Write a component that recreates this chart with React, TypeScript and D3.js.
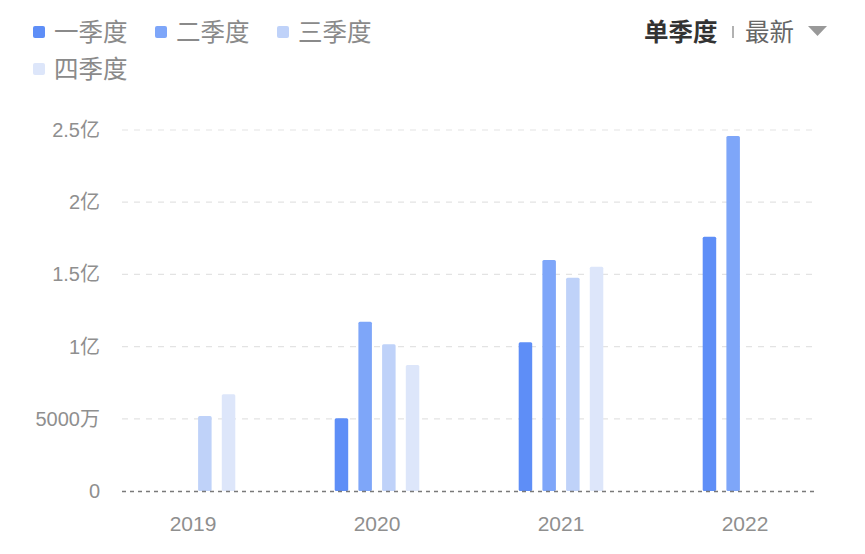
import { useEffect, useRef } from "react";
import { select, scaleBand, scaleLinear, axisLeft, axisBottom } from "d3";

const years = ["2019", "2020", "2021", "2022"];
const quarters = ["一季度", "二季度", "三季度", "四季度"];
// values in 亿, null = no data
const q1 = [null, 0.503, 1.03, 1.761];
const q2 = [null, 1.172, 1.6, 2.458];
const q3 = [0.519, 1.016, 1.477, null];
const q4 = [0.67, 0.873, 1.553, null];
const yTicks = [0, 0.5, 1, 1.5, 2, 2.5];
const yTickLabels = ["0", "5000万", "1亿", "1.5亿", "2亿", "2.5亿"];
const colors = ["#5E8EF7", "#7EA6F9", "#BFD2F9", "#DDE6FA"];

const W = 865;
const H = 554;
const FONT = "'Liberation Sans', 'Noto Sans CJK SC', sans-serif";
const CJK = "'Noto Sans CJK SC', sans-serif";

export default function App() {
  const svgRef = useRef<SVGSVGElement>(null);

  useEffect(() => {
    document.body.style.margin = "0";
    const svg = select(svgRef.current);
    svg.selectAll("*").remove();

    const series = [q1, q2, q3, q4];

    const x = scaleBand().domain(years).range([101, 837]);
    const xq = scaleBand()
      .domain(quarters)
      .range([44.6, 139.4])
      .paddingInner(0.43)
      .paddingOuter(0.215);
    const y = scaleLinear().domain([0, 2.5]).range([491, 130]);

    // y axis labels
    const yAxis = axisLeft(y)
      .tickValues(yTicks)
      .tickSize(0)
      .tickPadding(22)
      .tickFormat((_, i) => yTickLabels[i]);
    const gy = svg.append("g").attr("transform", "translate(122,0)").call(yAxis);
    gy.select(".domain").remove();
    gy.selectAll("text")
      .attr("font-family", FONT)
      .attr("font-size", 20)
      .attr("fill", "#8f8f8f");

    // grid lines
    svg
      .append("g")
      .selectAll("line")
      .data(yTicks.filter((t) => t > 0))
      .join("line")
      .attr("x1", 122)
      .attr("x2", 816)
      .attr("y1", (d) => y(d))
      .attr("y2", (d) => y(d))
      .attr("stroke", "#e3e3e3")
      .attr("stroke-width", 1.2)
      .attr("stroke-dasharray", "6,6");

    // bars
    series.forEach((vals, si) => {
      svg
        .append("g")
        .selectAll("rect")
        .data(vals.map((v, i) => ({ v, year: years[i] })).filter((d) => d.v != null))
        .join("rect")
        .attr("x", (d) => (x(d.year) as number) + (xq(quarters[si]) as number))
        .attr("y", (d) => y(d.v as number))
        .attr("width", xq.bandwidth())
        .attr("height", (d) => 491 - y(d.v as number))
        .attr("rx", 1.5)
        .attr("fill", colors[si]);
    });

    // baseline
    svg
      .append("line")
      .attr("x1", 122)
      .attr("x2", 816)
      .attr("y1", 491.5)
      .attr("y2", 491.5)
      .attr("stroke", "#7a7a7a")
      .attr("stroke-width", 1.5)
      .attr("stroke-dasharray", "4,4");

    // x axis
    const gx = svg
      .append("g")
      .attr("transform", "translate(0,491)")
      .call(axisBottom(x).tickSize(0).tickPadding(25));
    gx.select(".domain").remove();
    gx.selectAll("text")
      .attr("font-family", FONT)
      .attr("font-size", 21)
      .attr("fill", "#8f8f8f");

    // legend
    const legendPos = [
      [33, 32],
      [155, 32],
      [277, 32],
      [33, 69],
    ];
    const lg = svg.append("g");
    quarters.forEach((q, i) => {
      const [lx, ly] = legendPos[i];
      lg.append("rect")
        .attr("x", lx)
        .attr("y", ly - 6)
        .attr("width", 12)
        .attr("height", 12)
        .attr("rx", 2)
        .attr("fill", colors[i]);
      lg.append("text")
        .attr("x", lx + 21)
        .attr("y", ly)
        .attr("dy", "0.36em")
        .attr("font-family", CJK)
        .attr("font-size", 24.5)
        .attr("fill", "#8a8a8a")
        .text(q);
    });

    // top right control
    const ctl = svg.append("g");
    ctl.append("text")
      .attr("x", 644)
      .attr("y", 32)
      .attr("dy", "0.36em")
      .attr("font-family", CJK)
      .attr("font-size", 24.5)
      .attr("font-weight", "bold")
      .attr("fill", "#333")
      .text("单季度");
    ctl.append("line")
      .attr("x1", 733)
      .attr("x2", 733)
      .attr("y1", 26)
      .attr("y2", 38)
      .attr("stroke", "#999")
      .attr("stroke-width", 1.5);
    ctl.append("text")
      .attr("x", 745)
      .attr("y", 32)
      .attr("dy", "0.36em")
      .attr("font-family", CJK)
      .attr("font-size", 24.5)
      .attr("fill", "#666")
      .text("最新");
    ctl.append("path")
      .attr("d", "M808,26 L827,26 L817.5,36 Z")
      .attr("fill", "#999");
  }, []);

  return (
    <div style={{ position: "absolute", left: 0, top: 0, width: W, height: H, background: "#fff" }}>
      <svg ref={svgRef} width={W} height={H} />
    </div>
  );
}
